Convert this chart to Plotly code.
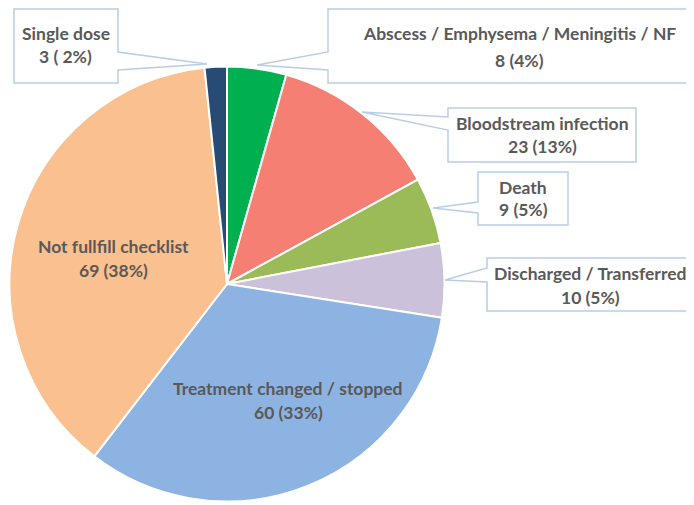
import plotly.graph_objects as go

# ---- data ----
labels = ["Abscess / Emphysema / Meningitis / NF", "Bloodstream infection", "Death",
          "Discharged / Transferred", "Treatment changed / stopped",
          "Not fullfill checklist", "Single dose"]
values = [8, 23, 9, 10, 60, 69, 3]
pct_labels = ["4%", "13%", "5%", "5%", "33%", "38%", " 2%"]
colors = ["#00B050", "#F47F72", "#9BBB59", "#CCC1DA", "#8DB3E2", "#FAC08F", "#274B72"]

# page body has an 8px margin; figure drawn to fill the rest of the window
OFF = 8
W, H = 694 - OFF, 505 - OFF
def px(x): return (x - OFF) / W
def py(y): return 1 - (y - OFF) / H

cx, cy, r = 227, 284, 217.5

fig = go.Figure(go.Pie(
    labels=labels, values=values, sort=False, direction="clockwise", rotation=0,
    marker=dict(colors=colors, line=dict(color="white", width=2)),
    textinfo="none", hoverinfo="label+value+percent",
    domain=dict(x=[px(cx - r), px(cx + r)], y=[py(cy + r), py(cy - r)]),
    showlegend=False,
))

# callout boxes: (left, top, right, bottom, side, attach1, attach2, tipx, tipy)
callouts = {
    0: (328, 9, 691, 83, "left", 52, 70, 257, 65),
    1: (448, 108, 636, 162, "left", 117, 130, 362, 112),
    2: (478, 172, 568, 225, "left", 202, 213, 433, 208),
    3: (487, 258, 692, 311, "left", 268, 282, 445, 280),
    6: (14, 9, 118, 83, "right", 52, 70, 207, 64),
}
# text line positions (x center, y line1, y line2)
text_pos = {
    0: (519, 33, 60),
    1: (542, 124, 147),
    2: (523, 188, 209),
    3: (590, 273, 297),
    4: (288, 388, 412),
    5: (113, 246, 270),
    6: (66, 33, 57),
}

shapes = []
for i, (l, t, rr, b, side, a1, a2, tx, ty) in callouts.items():
    if side == "left":
        pts = [(l, t), (rr, t), (rr, b), (l, b), (l, a2), (tx, ty), (l, a1)]
    else:
        pts = [(l, t), (rr, t), (rr, a1), (tx, ty), (rr, a2), (rr, b), (l, b)]
    path = "M " + " L ".join(f"{px(x):.5f},{py(y):.5f}" for x, y in pts) + " Z"
    shapes.append(dict(type="path", xref="paper", yref="paper", path=path,
                       fillcolor="white", line=dict(color="#B9CDE5", width=1.5),
                       layer="above"))

font = dict(family="Lato", size=17.5, color="#595959", weight="bold")
annotations = []
for i, (x, y1, y2) in text_pos.items():
    annotations.append(dict(x=px(x), y=py(y1), xref="paper", yref="paper",
                            text=labels[i], showarrow=False, font=font,
                            xanchor="center", yanchor="middle"))
    annotations.append(dict(x=px(x), y=py(y2), xref="paper", yref="paper",
                            text=f"{values[i]} ({pct_labels[i]})", showarrow=False,
                            font=font, xanchor="center", yanchor="middle"))

fig.update_layout(width=W, height=H, margin=dict(l=0, r=0, t=0, b=0),
                  paper_bgcolor="white", plot_bgcolor="white",
                  shapes=shapes, annotations=annotations)
fig.write_html("out.html")
